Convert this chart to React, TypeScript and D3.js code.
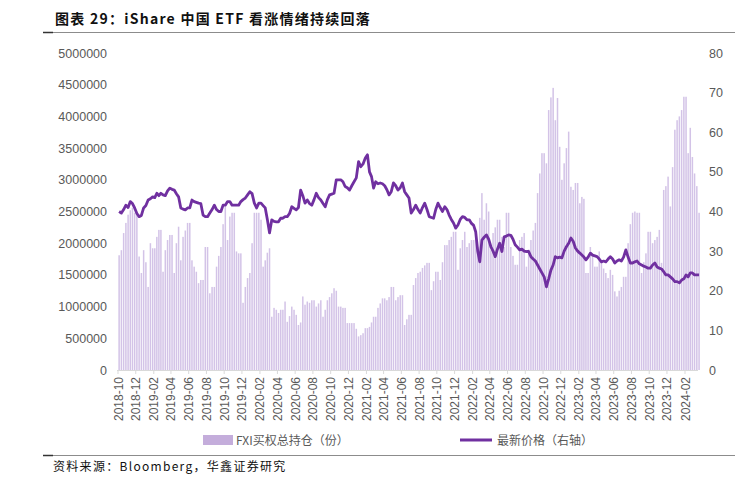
import { useEffect, useRef } from 'react';
import * as d3 from 'd3';

// first month of data; each row below is one month of weekly readings
const startMonth = "2018-10";

const tickLabels = [
    "2018-10", "2018-12", "2019-02", "2019-04", "2019-06", "2019-08", "2019-10", "2019-12",
    "2020-02", "2020-04", "2020-06", "2020-08", "2020-10", "2020-12", "2021-02", "2021-04",
    "2021-06", "2021-08", "2021-10", "2021-12", "2022-02", "2022-04", "2022-06", "2022-08",
    "2022-10", "2022-12", "2023-02", "2023-04", "2023-06", "2023-08", "2023-10", "2023-12",
    "2024-02",
];

// FXI call open interest, millions of contracts
const callOI = [
    [1.81, 1.89, 2.16, 2.32], [2.45, 2.52, 2.56, 2.48], [2.48, 1.79, 1.53, 1.89], [1.70, 1.31, 2.00, 1.92],
    [1.92, 2.10, 2.21, 2.21], [1.55, 1.89, 2.05, 2.13], [2.13, 1.53, 2.00, 2.26], [1.73, 2.10, 2.20, 2.32],
    [2.32, 1.73, 1.63, 1.55], [1.37, 1.42, 1.42, 1.94], [1.94, 1.21, 1.31, 1.31], [1.63, 1.80, 1.94, 2.30],
    [2.58, 2.05, 2.42, 2.48], [2.48, 1.87, 1.84, 1.84], [1.06, 1.31, 1.45, 1.53], [2.00, 2.48, 2.48, 2.48],
    [2.37, 1.63, 1.73, 1.85], [1.92, 0.84, 0.98, 0.95], [0.90, 0.95, 0.95, 1.08], [0.76, 0.85, 1.00, 0.95],
    [0.87, 0.71, 0.75, 1.16], [1.03, 1.08, 1.06, 1.10], [1.10, 1.00, 1.05, 1.10], [0.84, 0.95, 1.10, 1.15],
    [1.21, 1.29, 1.25, 1.00], [1.00, 0.98, 0.98, 0.74], [0.74, 0.74, 0.74, 0.65], [0.53, 0.55, 0.58, 0.66],
    [0.66, 0.68, 0.75, 0.84], [0.84, 0.98, 1.05, 1.13], [1.13, 1.10, 1.15, 1.31], [1.31, 1.10, 1.15, 1.18],
    [1.18, 0.71, 0.80, 0.87], [0.87, 1.34, 1.45, 1.53], [1.55, 1.61, 1.65, 1.69], [1.69, 1.26, 1.40, 1.55],
    [1.55, 1.42, 1.70, 1.97], [1.97, 2.05, 2.10, 2.18], [2.18, 1.58, 1.92, 2.05], [2.18, 1.94, 2.00, 2.05],
    [2.05, 2.18, 1.94, 2.40], [2.79, 2.37, 2.63, 2.50], [1.89, 2.16, 2.25, 2.37], [2.37, 2.10, 1.94, 2.48],
    [2.48, 1.94, 1.80, 1.66], [1.66, 2.05, 2.10, 2.16], [1.63, 1.90, 2.05, 2.20], [2.32, 2.79, 3.10, 3.42],
    [3.42, 3.26, 4.10, 4.30], [4.45, 3.94, 4.29, 3.52], [3.00, 3.26, 3.50, 3.76], [2.89, 2.84, 2.95, 2.95],
    [2.63, 2.73, 2.70, 1.53], [1.53, 1.94, 1.80, 1.63], [1.63, 1.87, 1.70, 1.60], [1.53, 1.45, 1.58, 1.50],
    [1.24, 1.16, 1.25, 1.31], [1.47, 1.47, 2.00, 2.30], [2.48, 2.50, 2.48, 2.48], [1.53, 1.70, 1.84, 2.18],
    [2.18, 2.00, 2.05, 2.10], [2.21, 1.69, 2.84, 2.90], [3.05, 2.58, 3.20, 3.79], [3.94, 4.00, 4.10, 4.31],
    [4.31, 3.42, 3.82, 3.36], [3.10, 2.90, 2.48],
];

// FXI last price, USD (right axis)
const lastPrice = [
    [40.0, 39.6, 40.5, 41.6], [41.0, 42.5, 42.0, 40.9], [39.5, 38.7, 39.0, 40.9], [41.5, 42.9, 43.2, 43.7],
    [43.5, 44.6, 44.0, 44.6], [44.2, 44.0, 45.2, 45.9], [45.6, 45.4, 44.5, 43.7], [40.9, 40.6, 40.4, 40.9],
    [40.9, 42.9, 42.5, 42.3], [42.1, 42.0, 39.1, 38.7], [38.7, 39.6, 40.5, 41.6], [40.5, 40.0, 40.0, 41.6],
    [41.6, 42.5, 42.5, 41.6], [41.6, 41.6, 41.6, 42.5], [43.0, 43.4, 44.2, 45.0], [44.5, 42.1, 40.9, 42.1],
    [42.1, 41.5, 40.9, 38.0], [34.6, 37.9, 37.5, 37.4], [37.4, 38.3, 38.3, 38.7], [38.7, 39.5, 41.2, 40.8],
    [40.4, 41.0, 45.4, 44.0], [42.1, 42.9, 42.0, 41.6], [43.0, 44.6, 43.5, 42.9], [42.0, 41.2, 43.0, 44.2],
    [44.4, 44.6, 48.0, 48.0], [48.0, 47.5, 46.3, 46.0], [45.4, 46.5, 47.5, 48.5], [52.6, 51.3, 52.0, 53.5],
    [54.3, 50.0, 48.8, 45.9], [47.5, 47.0, 47.2, 47.0], [46.5, 45.5, 44.2, 45.0], [47.2, 46.5, 45.4, 46.0],
    [47.2, 45.0, 44.2, 43.4], [39.6, 40.5, 41.6, 40.5], [39.6, 41.0, 42.1, 40.5], [38.7, 38.5, 38.3, 40.5],
    [42.1, 41.0, 40.0, 41.2], [40.5, 39.1, 38.0, 37.1], [35.8, 36.6, 38.0, 38.7], [38.5, 37.9, 37.9, 37.0],
    [36.5, 34.9, 30.0, 27.3], [32.8, 33.5, 34.1, 33.0], [31.1, 30.0, 28.6, 30.5], [32.0, 29.9, 33.6, 33.8],
    [34.1, 34.0, 33.0, 31.6], [31.0, 30.3, 30.5, 30.0], [29.9, 29.9, 28.6, 28.0], [27.5, 26.5, 25.5, 24.5],
    [23.5, 21.0, 23.0, 25.2], [26.5, 28.6, 28.3, 28.5], [28.3, 30.0, 31.1, 32.0], [33.3, 32.5, 30.8, 30.0],
    [29.5, 29.0, 28.5, 27.8], [28.5, 29.5, 29.0, 28.8], [28.6, 28.0, 27.3, 27.5], [27.3, 28.0, 28.6, 28.0],
    [27.0, 27.5, 27.8, 27.5], [28.5, 30.3, 28.5, 27.0], [27.0, 27.3, 27.5, 26.8], [26.5, 26.2, 26.0, 25.7],
    [25.7, 26.5, 27.0, 26.0], [25.7, 25.5, 24.8, 24.0], [24.0, 23.5, 23.0, 22.3], [22.3, 22.0, 22.7, 23.0],
    [24.0, 23.5, 24.5, 24.5], [24.0, 24.0, 24.0],
];

const leftTicks = [0, 0.5, 1, 1.5, 2, 2.5, 3, 3.5, 4, 4.5, 5];
const rightTicks = [0, 10, 20, 30, 40, 50, 60, 70, 80];

export default function App() {
    const svgRef = useRef<SVGSVGElement>(null);

    useEffect(() => {
        if (!svgRef.current) return;
        const svg = d3.select(svgRef.current);
        svg.selectAll("*").remove();

        const numFont = "'Liberation Sans', Arial, sans-serif";
        const cjkFont = "'Noto Sans CJK SC', sans-serif";
        const grey = "#595959";

        const plotLeft = 117, plotRight = 698, plotTop = 53, plotBottom = 370;

        const parse = d3.timeParse("%Y-%m");
        const t0 = parse(startMonth)!;

        // spread each month's readings over that month
        const toPoints = (rows: number[][]) => rows.flatMap((vals, i) => {
            const m0 = d3.timeMonth.offset(t0, i);
            const m1 = d3.timeMonth.offset(t0, i + 1);
            const span = +m1 - +m0;
            return vals.map((v, j) => ({ date: new Date(+m0 + span * (j + 0.5) / 4), v }));
        });
        const oiPts = toPoints(callOI);
        const pxPts = toPoints(lastPrice);

        const x = d3.scaleTime()
            .domain([parse("2018-10")!, parse("2024-02")!])
            .range([118, 685]);
        const yL = d3.scaleLinear().domain([0, 5]).range([plotBottom, plotTop]);
        const yR = d3.scaleLinear().domain([0, 80]).range([plotBottom, plotTop]);

        // title + rules
        svg.append("text")
            .attr("x", 55).attr("y", 24)
            .style("font-family", cjkFont).style("font-weight", "700").style("font-size", "14px")
            .style("letter-spacing", "1.25px")
            .attr("fill", "#111")
            .text("图表 29：iShare 中国 ETF 看涨情绪持续回落");
        svg.append("line").attr("x1", 43).attr("x2", 735).attr("y1", 32.5).attr("y2", 32.5)
            .attr("stroke", "#8c8c8c").attr("stroke-width", 1);
        svg.append("line").attr("x1", 43).attr("x2", 53).attr("y1", 32.5).attr("y2", 32.5)
            .attr("stroke", "#333").attr("stroke-width", 1.5);

        // bars
        svg.append("g")
            .selectAll("rect")
            .data(oiPts)
            .join("rect")
            .attr("x", d => x(d.date) - 0.75)
            .attr("width", 1.5)
            .attr("y", d => yL(d.v))
            .attr("height", d => plotBottom - yL(d.v))
            .attr("fill", "#d3c3e7");

        // x axis
        svg.append("line")
            .attr("x1", plotLeft).attr("x2", plotRight)
            .attr("y1", plotBottom + 0.5).attr("y2", plotBottom + 0.5)
            .attr("stroke", "#d9d9d9");
        const xTicks = svg.append("g");
        tickLabels.forEach(lbl => {
            const tx = x(parse(lbl)!);
            xTicks.append("line")
                .attr("x1", tx).attr("x2", tx)
                .attr("y1", plotBottom).attr("y2", plotBottom + 4)
                .attr("stroke", "#d9d9d9");
            xTicks.append("text")
                .attr("transform", `translate(${tx + 4.5},${plotBottom + 7}) rotate(-90)`)
                .attr("text-anchor", "end")
                .style("font-family", numFont).style("font-size", "12px")
                .attr("fill", grey)
                .text(lbl);
        });

        // left axis
        svg.append("g")
            .selectAll("text")
            .data(leftTicks)
            .join("text")
            .attr("x", 107)
            .attr("y", d => yL(d) + 4.5)
            .attr("text-anchor", "end")
            .style("font-family", numFont).style("font-size", "12.5px")
            .attr("fill", grey)
            .text(d => d3.format("d")(Math.round(d * 1e6)));

        // right axis
        svg.append("g")
            .selectAll("text")
            .data(rightTicks)
            .join("text")
            .attr("x", 709)
            .attr("y", d => yR(d) + 4.5)
            .style("font-family", numFont).style("font-size", "12.5px")
            .attr("fill", grey)
            .text(d => String(d));

        // price line
        const line = d3.line<{ date: Date; v: number }>()
            .x(d => x(d.date))
            .y(d => yR(d.v));
        svg.append("path")
            .datum(pxPts)
            .attr("d", line)
            .attr("fill", "none")
            .attr("stroke", "#7030a0")
            .attr("stroke-width", 2.8)
            .attr("stroke-linejoin", "round");

        // legend
        svg.append("rect").attr("x", 203).attr("y", 435).attr("width", 30).attr("height", 10)
            .attr("fill", "#c4addb");
        svg.append("text").attr("x", 236).attr("y", 444.5)
            .style("font-family", cjkFont).style("font-size", "12px").attr("fill", grey)
            .text("FXI买权总持仓（份）");
        svg.append("line").attr("x1", 460).attr("x2", 492).attr("y1", 440).attr("y2", 440)
            .attr("stroke", "#7030a0").attr("stroke-width", 3);
        svg.append("text").attr("x", 497).attr("y", 444.5)
            .style("font-family", cjkFont).style("font-size", "12px").attr("fill", grey)
            .text("最新价格（右轴）");

        // footer
        svg.append("line").attr("x1", 43).attr("x2", 735).attr("y1", 455.5).attr("y2", 455.5)
            .attr("stroke", "#8c8c8c").attr("stroke-width", 1);
        svg.append("line").attr("x1", 43).attr("x2", 53).attr("y1", 455.5).attr("y2", 455.5)
            .attr("stroke", "#333").attr("stroke-width", 1.5);
        svg.append("text").attr("x", 53).attr("y", 471)
            .style("font-family", cjkFont).style("font-size", "12px")
            .style("letter-spacing", "1.3px")
            .attr("fill", "#111")
            .text("资料来源：Bloomberg，华鑫证券研究");
    }, []);

    return (
        <div style={{ position: "absolute", left: 0, top: 0 }}>
            <svg ref={svgRef} width={743} height={484} style={{ display: "block", background: "#fff" }}></svg>
        </div>
    );
}
